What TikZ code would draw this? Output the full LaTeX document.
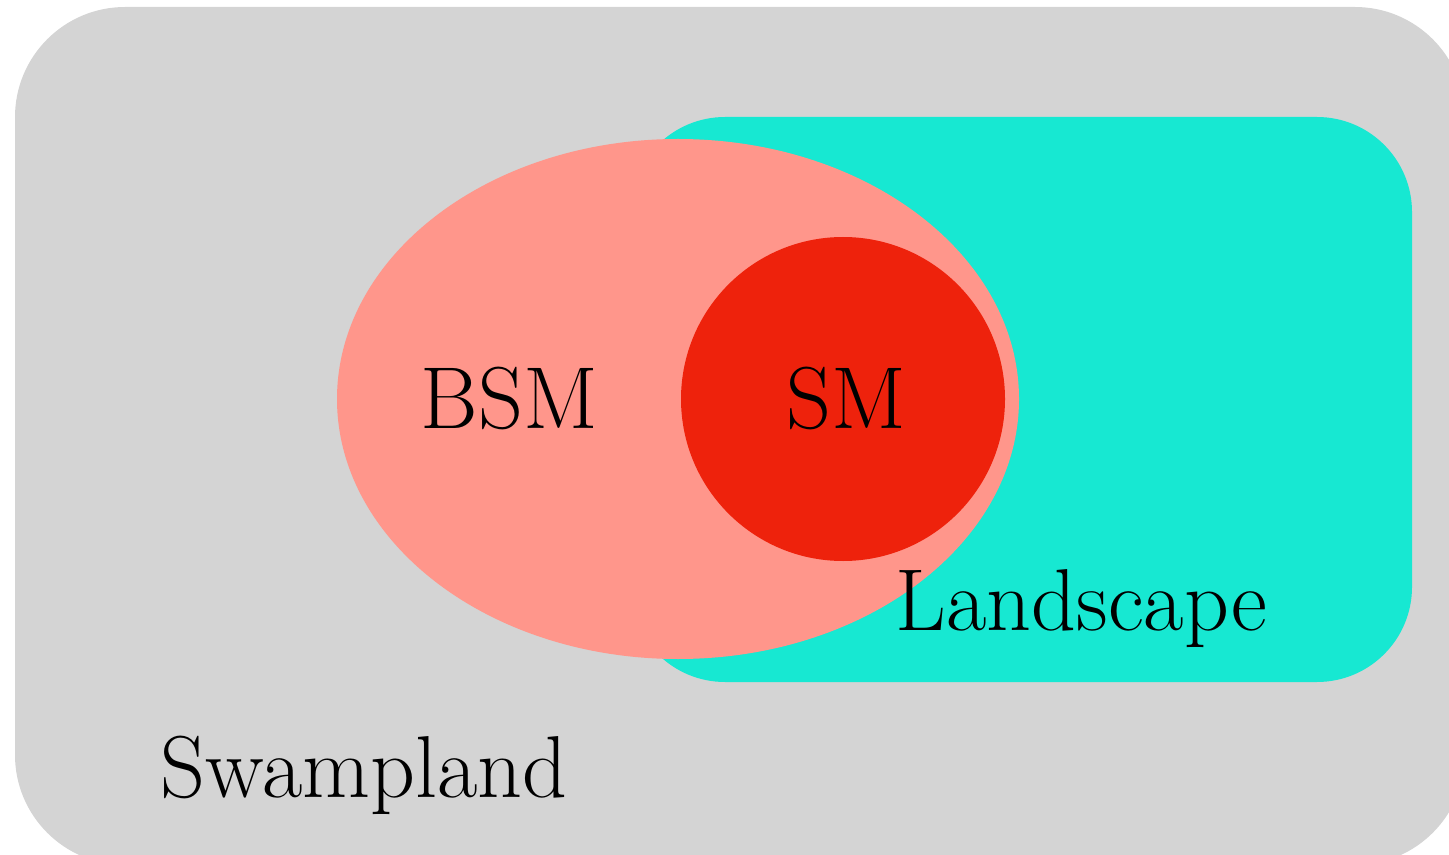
\documentclass[tikz,border=0pt]{standalone}
\definecolor{swampgray}{HTML}{D4D4D4}
\definecolor{landcyan}{HTML}{17E8D2}
\definecolor{bsmpink}{HTML}{FF968B}
\definecolor{smred}{HTML}{EE220C}
\tikzset{
  lbl/.style={inner sep=0pt, anchor=base west, font=\fontsize{25}{30}\selectfont, text=black},
}
\begin{document}
\begin{tikzpicture}[x=0.01cm,y=-0.01cm]
\useasboundingbox (0,0) rectangle (1449,855);
\begin{scope}
\clip (0,0) rectangle (1449,855);
\fill[swampgray, rounded corners=1.1cm] (15,7) rectangle (1465,865);
\end{scope}
\fill[landcyan, rounded corners=0.95cm] (630,117) rectangle (1412,682);
\fill[bsmpink] (678,399) ellipse [x radius=341, y radius=260];
\fill[smred] (843,399) circle [radius=162];
\node[lbl] (bsm) at (420,428) {BSM};
\node[lbl] (sm) at (786,428) {SM};
\node[lbl] (land) at (895,630) {Landscape};
\node[lbl] (swamp) at (160,797) {Swampland};
\end{tikzpicture}
\end{document}
